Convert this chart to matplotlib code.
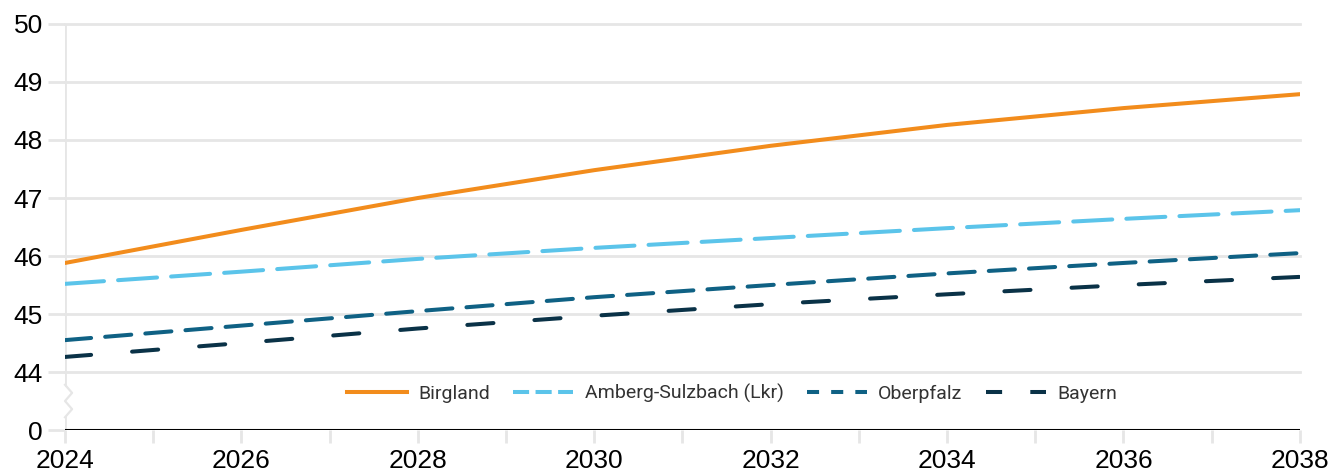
import numpy as np
import matplotlib.pyplot as plt
from matplotlib.lines import Line2D

years = [2024, 2026, 2028, 2030, 2032, 2034, 2036, 2038]
birgland = [45.88, 46.45, 47.0, 47.48, 47.9, 48.26, 48.55, 48.79]
amberg = [45.52, 45.73, 45.95, 46.14, 46.31, 46.48, 46.64, 46.79]
oberpfalz = [44.55, 44.8, 45.05, 45.29, 45.5, 45.7, 45.88, 46.05]
bayern = [44.26, 44.5, 44.75, 44.97, 45.17, 45.34, 45.5, 45.64]

# label, values, colour, line dashes, legend dashes
series = [
    ("Birgland", birgland, "#f28c1c", None, None),
    ("Amberg-Sulzbach (Lkr)", amberg, "#5bc4ea", (9.7, 3.5), (4, 1.6)),
    ("Oberpfalz", oberpfalz, "#0f6184", (6.5, 3.5), (3, 3)),
    ("Bayern", bayern, "#0a3247", (6.5, 10.2), (4, 7)),
]

ytick_vals = [43, 44, 45, 46, 47, 48, 49, 50]
ytick_labels = ["0", "44", "45", "46", "47", "48", "49", "50"]
grid_col = "#e6e6e6"


def main():
    fig = plt.figure(figsize=(13.35, 4.76), dpi=100)
    ax = fig.add_axes([0.0487, 0.0966, 0.925, 0.853])

    handles = []
    for label, vals, col, dash, ldash in series:
        kw = dict(color=col, lw=2.9, solid_capstyle="round",
                  dash_capstyle="round", zorder=3)
        if dash is None:
            ax.plot(years, vals, **kw)
            handles.append(Line2D([], [], color=col, lw=2.9, label=label))
        else:
            ax.plot(years, vals, dashes=dash, **kw)
            handles.append(Line2D([], [], color=col, lw=2.9, dashes=ldash,
                                  dash_capstyle="butt", label=label))

    ax.set_xlim(2024, 2038)
    ax.set_ylim(43, 50)
    ax.set_yticks(ytick_vals)
    ax.set_yticklabels(ytick_labels)
    ax.set_xticks(np.arange(2024, 2039, 1))
    ax.set_xticklabels([str(y) if y % 2 == 0 else "" for y in range(2024, 2039)])

    for y in ytick_vals[1:]:
        ax.axhline(y, color=grid_col, lw=2, zorder=1, clip_on=False)
    ax.axhline(43, color="black", lw=2.2, zorder=4)

    for s in ax.spines.values():
        s.set_visible(False)

    # left axis line with a break between 0 and 44
    ax.plot([2024, 2024], [43, 43.22], color=grid_col, lw=2, zorder=1)
    ax.plot([2024, 2024], [43.78, 50], color=grid_col, lw=2, zorder=1)
    zx = 2024 + np.array([0, 0.08, -0.0, 0.08, 0.0])
    zy = np.array([43.22, 43.36, 43.5, 43.64, 43.78])
    ax.plot(zx, zy, color=grid_col, lw=1.6, zorder=2, clip_on=False)

    ax.tick_params(axis="y", length=12, width=2, color=grid_col, pad=4,
                   labelsize=19)
    ax.tick_params(axis="x", length=9, width=2, color=grid_col, pad=5,
                   labelsize=19)
    for t in ax.get_xticklabels() + ax.get_yticklabels():
        t.set_fontfamily("Liberation Sans")

    leg = ax.legend(handles=handles, loc="center",
                    bbox_to_anchor=(0.54, 0.09), ncol=4, frameon=False,
                    handlelength=3.1, handletextpad=0.57, columnspacing=1.2,
                    prop={"family": "Roboto", "size": 14})
    for t in leg.get_texts():
        t.set_color("#333333")

    fig.savefig("out.png", dpi=100)


if __name__ == "__main__":
    main()
